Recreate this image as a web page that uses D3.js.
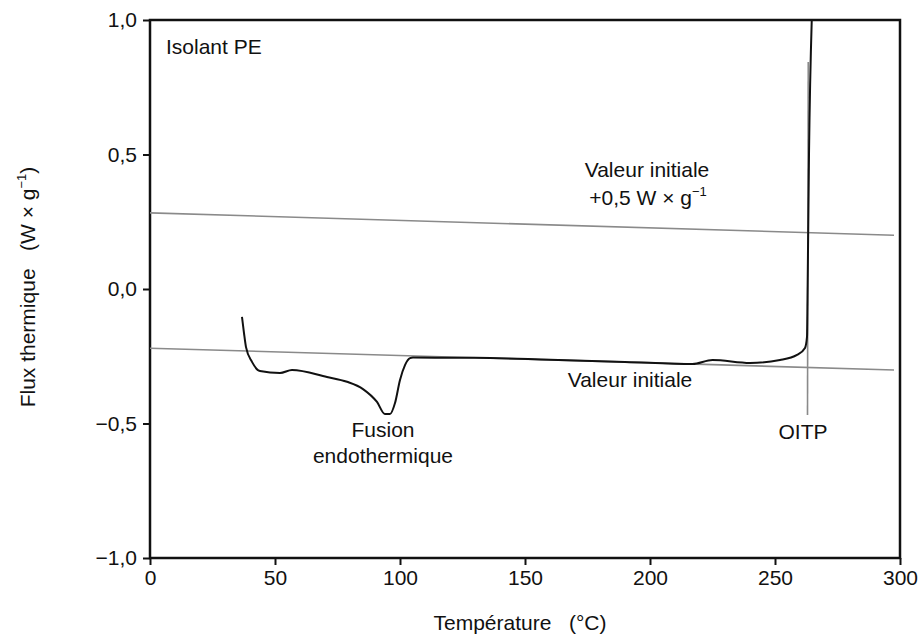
<!DOCTYPE html>
<html>
<head>
<meta charset="utf-8">
<script src="https://cdn.jsdelivr.net/npm/d3@7"></script>
<style>
  html, body { margin: 0; padding: 0; background: #fff; }
  svg { display: block; font-family: "Liberation Sans", Arial, sans-serif; }
</style>
</head>
<body>
<svg id="chart" width="921" height="637"></svg>
<script>
// ---- data ----
const xTicks = [0, 50, 100, 150, 200, 250, 300];
const yTicks = [1.0, 0.5, 0.0, -0.5, -1.0];
const yTickLabels = ["1,0", "0,5", "0,0", "\u22120,5", "\u22121,0"];

// DSC curve (temperature °C, heat flux W/g)
const curveT = [36.8, 37.6, 38.4, 40.8, 44, 52, 56.8, 70.8, 78.8, 85.2, 90.8, 94, 96, 98, 100, 102, 104, 105.2, 130, 160, 190, 217, 225, 240, 252, 258.8, 262, 262.8, 263.0, 263.6, 264.7];
const curveV = [-0.104, -0.164, -0.216, -0.271, -0.305, -0.312, -0.301, -0.327, -0.345, -0.372, -0.42, -0.465, -0.465, -0.424, -0.338, -0.283, -0.257, -0.255, -0.256, -0.263, -0.271, -0.279, -0.264, -0.275, -0.264, -0.245, -0.219, -0.178, -0.04, 0.5, 1.0];

// baseline ("Valeur initiale") and baseline + 0.5 W/g
const baseT = [0, 297.6];
const baseV = [-0.22, -0.301];
const upperV = [0.283, 0.2];

// OITP vertical marker
const oitpT = [263.3, 263.0];
const oitpV = [0.844, -0.468];

// ---- layout ----
const svg = d3.select("#chart");
const L = 150, R = 900, T = 20, B = 558;
const x = d3.scaleLinear().domain([0, 300]).range([L, R]);
const y = d3.scaleLinear().domain([-1, 1]).range([B, T]);
const FS = 21;

// axes
const xAxis = d3.axisBottom(x).tickValues(xTicks).tickSize(7).tickPadding(5).tickFormat(d3.format("d"));
const yAxis = d3.axisLeft(y).tickValues(yTicks).tickSize(7).tickPadding(6)
  .tickFormat((d, i) => yTickLabels[i]);

const gx = svg.append("g").attr("transform", `translate(0,${B})`).call(xAxis);
const gy = svg.append("g").attr("transform", `translate(${L},0)`).call(yAxis);
[gx, gy].forEach(g => {
  g.select(".domain").remove();
  g.selectAll(".tick line").attr("stroke", "#111").attr("stroke-width", 2);
  g.selectAll(".tick text").attr("fill", "#111").style("font-size", FS + "px")
    .style("font-family", "'Liberation Sans', Arial, sans-serif");
});

// frame
svg.append("rect").attr("x", L).attr("y", T).attr("width", R - L).attr("height", B - T)
  .attr("fill", "none").attr("stroke", "#111").attr("stroke-width", 2.5);

// gray reference lines
const line = d3.line().x(d => x(d[0])).y(d => y(d[1]));
svg.append("path").datum(d3.zip(baseT, baseV)).attr("d", line)
  .attr("fill", "none").attr("stroke", "#8a8a8a").attr("stroke-width", 1.6);
svg.append("path").datum(d3.zip(baseT, upperV)).attr("d", line)
  .attr("fill", "none").attr("stroke", "#8a8a8a").attr("stroke-width", 1.6);
svg.append("path").datum(d3.zip(oitpT, oitpV)).attr("d", line)
  .attr("fill", "none").attr("stroke", "#8a8a8a").attr("stroke-width", 1.6);

// DSC curve
const curve = d3.line().x(d => x(d[0])).y(d => y(d[1])).curve(d3.curveMonotoneX);
svg.append("path").datum(d3.zip(curveT, curveV)).attr("d", curve)
  .attr("fill", "none").attr("stroke", "#111").attr("stroke-width", 2);

// text helpers
function txt(xp, yp, s, anchor = "middle", size = FS) {
  return svg.append("text").attr("x", xp).attr("y", yp).attr("text-anchor", anchor)
    .attr("fill", "#111").style("font-size", size + "px").text(s);
}

txt(166, 54, "Isolant PE", "start");
txt(647, 177, "Valeur initiale");
const t2 = txt(648, 205, "+0,5 W \u00d7 g", "middle");
t2.append("tspan").attr("dy", -9).style("font-size", "13px").text("\u22121");
txt(630, 387, "Valeur initiale");
txt(383, 437, "Fusion");
txt(383, 463, "endothermique");
txt(803, 439, "OITP");

// axis titles
txt(520, 630, "Temp\u00e9rature\u00a0\u00a0\u00a0(\u00b0C)");
const yl = svg.append("text").attr("transform", "translate(35,287) rotate(-90)")
  .attr("text-anchor", "middle").attr("fill", "#111").style("font-size", FS + "px");
yl.append("tspan").text("Flux thermique\u00a0\u00a0\u00a0(W \u00d7 g");
yl.append("tspan").attr("dy", -9).style("font-size", "13px").text("\u22121");
yl.append("tspan").attr("dy", 9).text(")");
</script>
</body>
</html>
